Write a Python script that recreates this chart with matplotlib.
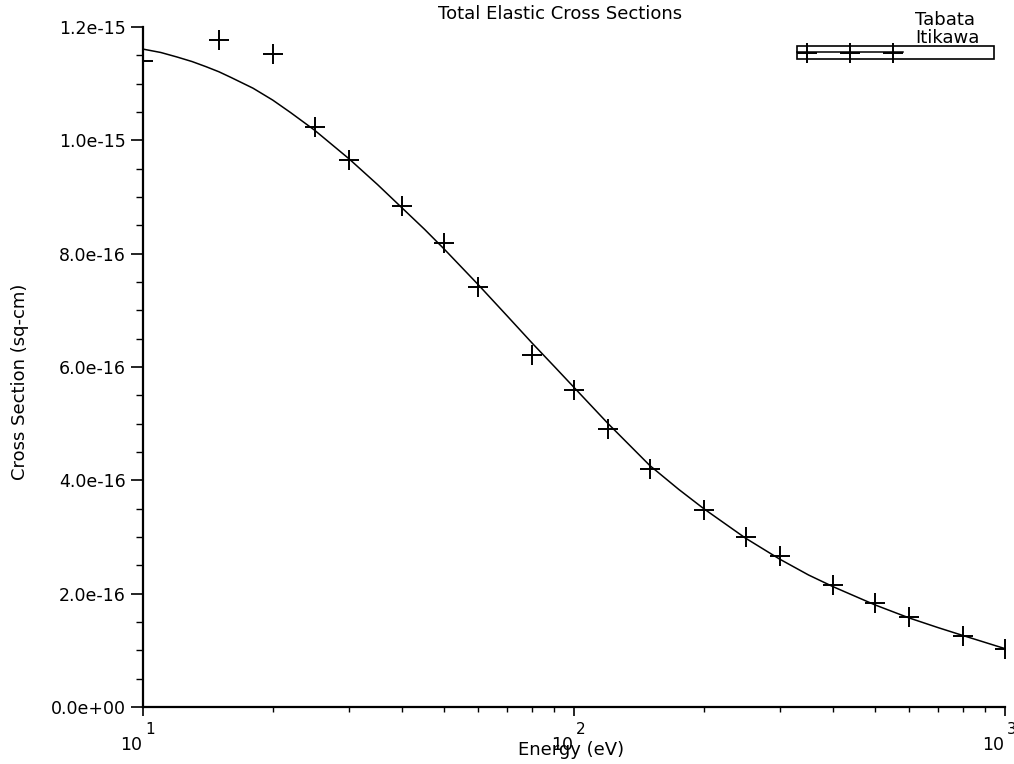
import matplotlib
matplotlib.use("Agg")
import matplotlib.pyplot as plt
from matplotlib.ticker import MultipleLocator, FuncFormatter, LogLocator, NullFormatter
from matplotlib.lines import Line2D
from matplotlib.patches import Rectangle
import matplotlib.transforms as mtransforms

# Tabata fit curve (energy in eV, cross section in cm^2)
tabata_energy = [10, 11, 12, 13, 14, 15, 16, 18, 20, 22, 25, 30, 35, 40, 45, 50,
                 60, 70, 80, 90, 100, 120, 150, 175, 200, 250, 300, 350, 400,
                 500, 600, 700, 800, 1000]
tabata_sigma = [11.61e-16, 11.55e-16, 11.47e-16, 11.39e-16, 11.30e-16, 11.21e-16,
                11.11e-16, 10.92e-16, 10.71e-16, 10.49e-16, 10.18e-16, 9.68e-16,
                9.22e-16, 8.80e-16, 8.43e-16, 8.08e-16, 7.45e-16, 6.90e-16,
                6.42e-16, 6.01e-16, 5.64e-16, 5.00e-16, 4.26e-16, 3.84e-16,
                3.50e-16, 2.98e-16, 2.61e-16, 2.33e-16, 2.12e-16, 1.80e-16,
                1.57e-16, 1.40e-16, 1.26e-16, 1.03e-16]

# Itikawa measured points
itikawa_energy = [10, 15, 20, 25, 30, 40, 50, 60, 80, 100, 120, 150, 200,
                  250, 300, 400, 500, 600, 800, 1000]
itikawa_sigma = [11.40e-16, 11.77e-16, 11.52e-16, 10.24e-16, 9.65e-16, 8.84e-16,
                 8.19e-16, 7.41e-16, 6.21e-16, 5.59e-16, 4.91e-16, 4.20e-16,
                 3.48e-16, 3.00e-16, 2.66e-16, 2.15e-16, 1.84e-16, 1.59e-16,
                 1.25e-16, 1.02e-16]

xlim = (10, 1000)
ylim = (0, 1.2e-15)
x_decades = [1, 2, 3]

title = "Total Elastic Cross Sections"
xlabel = "Energy (eV)"
ylabel = "Cross Section (sq-cm)"
legend_names = ["Tabata", "Itikawa"]

W, H, DPI = 1014, 764, 100
fig = plt.figure(figsize=(W / DPI, H / DPI), dpi=DPI)
ax = fig.add_axes([143 / W, 1 - 707 / H, (1005 - 143) / W, (707 - 27) / H])

font = dict(family="DejaVu Sans")
fs = 13
tfs = 12.5

ax.plot(tabata_energy, tabata_sigma, color="black", lw=1.1)
ax.plot(itikawa_energy, itikawa_sigma, linestyle="none", marker="+",
        markersize=14, markeredgewidth=1.4, color="black")

ax.set_xscale("log")
ax.set_xlim(*xlim)
ax.set_ylim(*ylim)

for s in ["top", "right"]:
    ax.spines[s].set_visible(False)
for s in ["left", "bottom"]:
    ax.spines[s].set_linewidth(1.6)

ax.yaxis.set_major_locator(MultipleLocator(2e-16))
ax.yaxis.set_minor_locator(MultipleLocator(0.5e-16))
ax.yaxis.set_major_formatter(FuncFormatter(lambda v, p: f"{v:.1e}"))
ax.tick_params(axis="y", which="major", direction="out", length=8.5, width=1.2,
               labelsize=tfs, pad=4)
ax.tick_params(axis="y", which="minor", direction="out", length=5, width=1.0)

ax.xaxis.set_major_locator(LogLocator(base=10))
ax.xaxis.set_minor_locator(LogLocator(base=10, subs=range(2, 10)))
ax.xaxis.set_major_formatter(NullFormatter())
ax.xaxis.set_minor_formatter(NullFormatter())
ax.tick_params(axis="x", which="major", direction="out", length=6.5, width=1.2)
ax.tick_params(axis="x", which="minor", direction="out", length=3.5, width=1.0)

# Decade labels: mantissa left of the tick, exponent raised on the right
tr = mtransforms.blended_transform_factory(ax.transData, ax.transAxes)
for d in x_decades:
    xv = 10 ** d
    ax.text(xv, 0, "10",
            transform=tr + mtransforms.ScaledTranslation(-1 / DPI, -38 / DPI, fig.dpi_scale_trans),
            ha="right", va="center", fontsize=tfs, clip_on=False, **font)
    ax.text(xv, 0, str(d),
            transform=tr + mtransforms.ScaledTranslation(2 / DPI, -22 / DPI, fig.dpi_scale_trans),
            ha="left", va="center", fontsize=tfs - 1.5, clip_on=False, **font)

fig.text(560 / W, 1 - 14 / H, title, ha="center", va="center", fontsize=fs, **font)
fig.text(571 / W, 1 - 750 / H, xlabel, ha="center", va="center", fontsize=fs, **font)
fig.text(20 / W, 1 - 382 / H, ylabel, ha="center", va="center", rotation=90,
         fontsize=fs, **font)

# Legend box
lx0, lx1, ly0, ly1 = 797 / W, 994 / W, 1 - 58.5 / H, 1 - 45.5 / H
fig.add_artist(Rectangle((lx0, ly0), lx1 - lx0, ly1 - ly0, transform=fig.transFigure,
                         fill=False, edgecolor="black", lw=1.2))
fig.add_artist(Line2D([lx0, 903 / W], [1 - 51.5 / H, 1 - 51.5 / H],
                      transform=fig.transFigure, color="black", lw=1.1))
fig.add_artist(Line2D([807 / W, 850 / W, 893 / W], [1 - 53 / H] * 3,
                      transform=fig.transFigure, linestyle="none", marker="+",
                      markersize=14, markeredgewidth=1.4, color="black"))
fig.text(915 / W, 1 - 20 / H, legend_names[0], ha="left", va="center", fontsize=fs, **font)
fig.text(915 / W, 1 - 38 / H, legend_names[1], ha="left", va="center", fontsize=fs, **font)

fig.savefig("out.png", dpi=DPI)
